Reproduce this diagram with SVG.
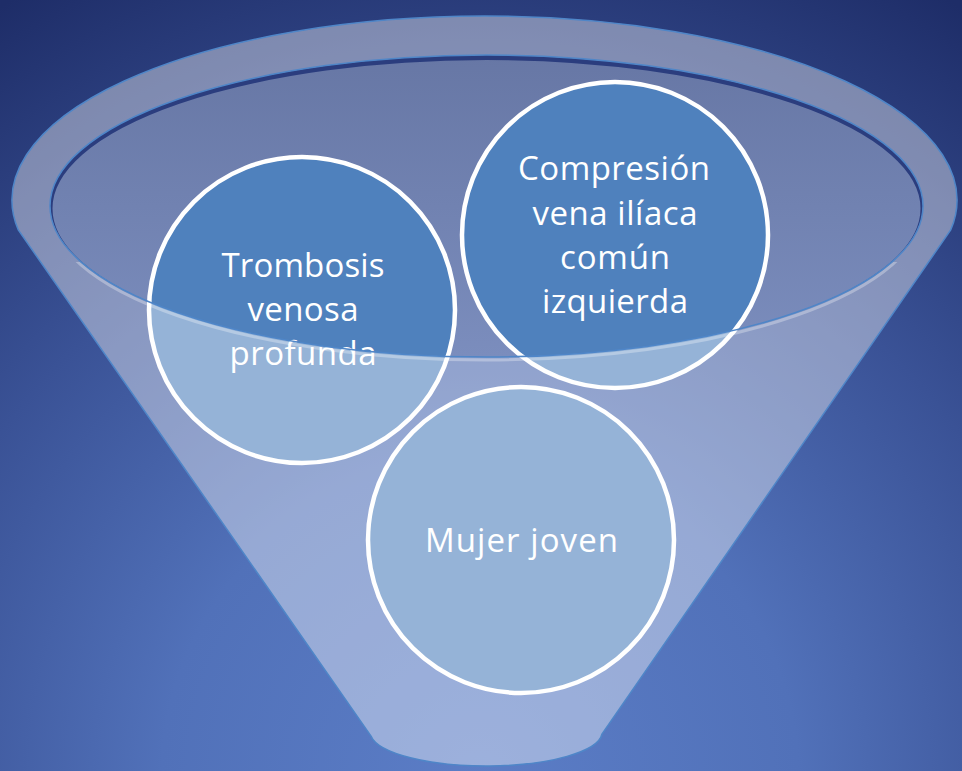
<svg xmlns="http://www.w3.org/2000/svg" width="962" height="771" viewBox="0 0 962 771">
<defs>
<radialGradient id="bg" gradientUnits="userSpaceOnUse" cx="480" cy="780" r="910">
<stop offset="0" stop-color="#5b7dc6"/>
<stop offset="0.35" stop-color="#5171b9"/>
<stop offset="0.65" stop-color="#3a5296"/>
<stop offset="1" stop-color="#1e2d68"/>
</radialGradient>
<linearGradient id="inner" x1="0" y1="55" x2="0" y2="357" gradientUnits="userSpaceOnUse">
<stop offset="0" stop-color="#6777a5"/>
<stop offset="1" stop-color="#7b8dbd"/>
</linearGradient>
<clipPath id="innerClip"><ellipse cx="486.5" cy="206" rx="436.5" ry="151"/></clipPath>
<clipPath id="lowClip"><rect x="0" y="262" width="962" height="200"/></clipPath>
<style>
.node{fill:#4f81bd;stroke:#ffffff;stroke-width:4.5}
.lbl{font-family:"Open Sans","Liberation Sans",sans-serif;font-size:33px;fill:#ffffff;text-anchor:middle}
</style>
</defs>
<rect width="962" height="771" fill="url(#bg)"/>
<g id="funnel-back">
<ellipse cx="486.5" cy="206" rx="436.5" ry="151" fill="url(#inner)"/>
<ellipse cx="486.5" cy="208.5" rx="436.5" ry="151" fill="none" stroke="#2b3d7e" stroke-width="5" clip-path="url(#innerClip)"/>
</g>
<g id="node-trombosis">
<circle cx="302" cy="310" r="153" class="node"/>
<text class="lbl"><tspan x="303" y="277" textLength="163">Trombosis</tspan><tspan x="303" y="321" textLength="111">venosa</tspan><tspan x="303" y="365" textLength="147">profunda</tspan></text>
</g>
<g id="node-compresion">
<circle cx="615" cy="235" r="153" class="node"/>
<text class="lbl"><tspan x="614" y="180" textLength="192">Compresión</tspan><tspan x="615" y="225" textLength="165">vena ilíaca</tspan><tspan x="615" y="269" textLength="110">común</tspan><tspan x="615" y="313" textLength="146">izquierda</tspan></text>
</g>
<g id="node-mujer">
<circle cx="521" cy="540" r="153" class="node"/>
<text class="lbl"><tspan x="521.5" y="552" textLength="193">Mujer joven</tspan></text>
</g>
<g id="funnel-front">
<path d="M 18.3 230 A 472.5 184 0 1 1 950.7 230 L 602 734 A 116 34 0 0 1 371 736 Z M 50 206 A 436.5 151 0 1 0 923 206 A 436.5 151 0 1 0 50 206 Z" fill="#ffffff" fill-opacity="0.4" fill-rule="evenodd"/>
<path d="M 18.3 230 A 472.5 184 0 1 1 950.7 230 L 602 734 A 116 34 0 0 1 371 736 Z" fill="none" stroke="#4f86c8" stroke-width="1.5"/>
<ellipse cx="486.5" cy="209" rx="436.5" ry="151" fill="none" stroke="#ffffff" stroke-opacity="0.3" stroke-width="3" clip-path="url(#lowClip)"/>
<ellipse cx="486.5" cy="206" rx="436.5" ry="151" fill="none" stroke="#4f86c8" stroke-width="1.5"/>
</g>
<g id="connectors"/>
</svg>
